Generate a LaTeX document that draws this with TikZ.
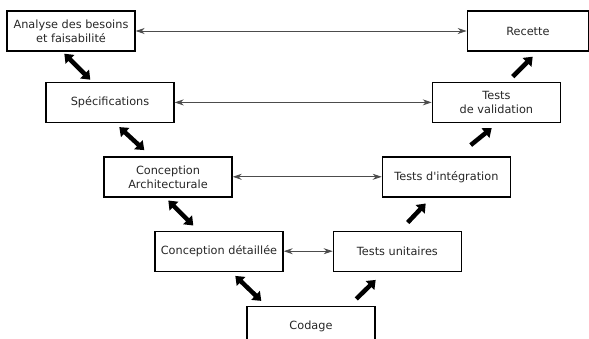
\documentclass[tikz,border=0pt]{standalone}
\usepackage{fontspec}
\setmainfont{DejaVu Sans}
\usetikzlibrary{arrows.meta,positioning,calc}
\tikzset{%
  font=\fontsize{11.3}{14}\selectfont,
  box/.style    = {draw, rectangle, line width=1.4pt, minimum width=128pt, minimum height=40pt, align=center, text=black!85, inner sep=2pt},
  link/.style   = {draw, line width=0.8pt, black!70, {Stealth[length=9pt,width=6pt]}-{Stealth[length=9pt,width=6pt]}},
  bigline/.style = {draw, line width=4.5pt, -{Triangle[length=8pt,width=12pt]}},
  bigboth/.style = {draw, line width=4.5pt, {Triangle[length=8pt,width=12pt]}-{Triangle[length=8pt,width=12pt]}}
}

\begin{document}
\begin{tikzpicture}
	\clip (0,0) rectangle (589pt,-338pt);
	% left branch
	\node[box] (analyse) at (71pt,-31pt) {Analyse des besoins\\et faisabilité};
	\node[box,anchor=north west] (specs) at ([xshift=39pt,yshift=-30pt] analyse.south west) {Spécifications};
	\node[box,anchor=north west] (arch) at ([xshift=58pt,yshift=-33pt] specs.south west) {Conception\\Architecturale};
	\node[box,anchor=north west] (detail) at ([xshift=51pt,yshift=-33pt] arch.south west) {Conception détaillée};
	\node[box,anchor=north west] (codage) at ([xshift=92pt,yshift=-34pt] detail.south west) {Codage};
	
	% right branch
	\node[box,anchor=north west] (unit) at ([xshift=49pt] detail.north east) {Tests unitaires};
	\node[box,anchor=north west] (integ) at ([xshift=149pt] arch.north east) {Tests d\textquotesingle intégration};
	\node[box,anchor=north west] (valid) at ([xshift=257pt] specs.north east) {Tests\\de validation};
	\node[box,anchor=north west,minimum width=121pt] (recette) at ([xshift=331pt] analyse.north east) {Recette};
	
	% horizontal links
	\draw[link] (analyse.east) -- (recette.west);
	\draw[link] (specs.east) -- (valid.west);
	\draw[link] (arch.east) -- (integ.west);
	\draw[link] (detail.east) -- (unit.west);
	
	% descending side
	\draw[bigboth] ([xshift=58pt,yshift=-2pt] analyse.south west) -- ([xshift=45pt,yshift=2pt] specs.north west);
	\draw[bigboth] ([xshift=74pt,yshift=-4pt] specs.south west) -- ([xshift=41pt,yshift=6pt] arch.north west);
	\draw[bigboth] ([xshift=65pt,yshift=-3pt] arch.south west) -- ([xshift=39pt,yshift=5pt] detail.north west);
	\draw[bigboth] ([xshift=81pt,yshift=-4pt] detail.south west) -- ([xshift=15pt,yshift=5pt] codage.north west);
	
	% ascending side
	\draw[bigline] ([xshift=110pt,yshift=7pt] codage.north west) -- ([xshift=43pt,yshift=-8pt] unit.south west);
	\draw[bigline] ([xshift=75pt,yshift=8pt] unit.north west) -- ([xshift=44pt,yshift=-6pt] integ.south west);
	\draw[bigline] ([xshift=89pt,yshift=11pt] integ.north west) -- ([xshift=60pt,yshift=-5pt] valid.south west);
	\draw[bigline] ([xshift=81pt,yshift=5pt] valid.north west) -- ([xshift=66pt,yshift=-5pt] recette.south west);
\end{tikzpicture}
\end{document}
